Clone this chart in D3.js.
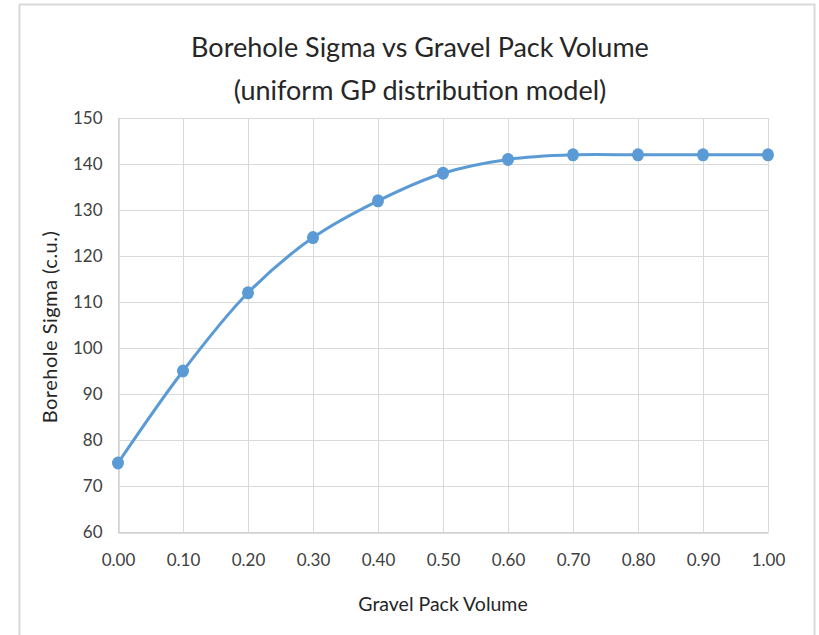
<!DOCTYPE html>
<html>
<head>
<meta charset="utf-8">
<script src="https://cdn.jsdelivr.net/npm/d3@7"></script>
<style>
	body { margin: 0; background: #fff; }
	svg { display: block; font-family: Lato, "Open Sans", sans-serif; }
</style>
</head>
<body>
<svg width="819" height="635"></svg>
<script>
// chart data
const gpVolume = [0, 0.1, 0.2, 0.3, 0.4, 0.5, 0.6, 0.7, 0.8, 0.9, 1.0];
const boreholeSigma = [75, 95, 112, 124, 132, 138, 141, 142, 142, 142, 142];
const xTicks = [0, 0.1, 0.2, 0.3, 0.4, 0.5, 0.6, 0.7, 0.8, 0.9, 1.0];
const yTicks = [60, 70, 80, 90, 100, 110, 120, 130, 140, 150];

const svg = d3.select("svg");
const plotLeft = 118, plotRight = 768, plotTop = 118, plotBottom = 532;

// outer chart frame
svg.append("rect")
	.attr("x", 19.5)
	.attr("y", 4.5)
	.attr("width", 795)
	.attr("height", 640)
	.attr("fill", "#fff")
	.attr("stroke", "#d9d9d9")
	.attr("stroke-width", 2);

const x = d3.scaleLinear().domain([0, 1]).range([plotLeft, plotRight]);
const y = d3.scaleLinear().domain([60, 150]).range([plotBottom, plotTop]);

// gridlines
const grid = svg.append("g").attr("stroke", "#d9d9d9").attr("stroke-width", 1);
grid.selectAll(".gy")
	.data(yTicks)
	.join("line")
	.attr("x1", plotLeft)
	.attr("x2", plotRight)
	.attr("y1", (d) => Math.round(y(d)) + 0.5)
	.attr("y2", (d) => Math.round(y(d)) + 0.5);
grid.selectAll(".gx")
	.data(xTicks)
	.join("line")
	.attr("x1", (d) => Math.round(x(d)) + 0.5)
	.attr("x2", (d) => Math.round(x(d)) + 0.5)
	.attr("y1", plotTop)
	.attr("y2", plotBottom);

// axes
const xAxis = svg.append("g")
	.attr("transform", "translate(0," + (plotBottom + 0.5) + ")")
	.call(d3.axisBottom(x).tickValues(xTicks).tickFormat(d3.format(".2f")).tickSize(0).tickPadding(21));
const yAxis = svg.append("g")
	.attr("transform", "translate(" + (plotLeft + 0.5) + ",0)")
	.call(d3.axisLeft(y).tickValues(yTicks).tickSize(0).tickPadding(16));
[xAxis, yAxis].forEach((a) => {
	a.select(".domain").attr("stroke", "#d0d0d0").attr("stroke-width", 1.5);
	a.selectAll("text")
		.attr("font-family", "Lato, 'Open Sans', sans-serif")
		.attr("font-size", "17px")
		.attr("fill", "#404040");
});

// series line
const pts = gpVolume.map((v, i) => [v, boreholeSigma[i]]);
svg.append("path")
	.datum(pts)
	.attr("fill", "none")
	.attr("stroke", "#5b9bd5")
	.attr("stroke-width", 3)
	.attr("d", d3.line().x((d) => x(d[0])).y((d) => y(d[1])).curve(d3.curveCatmullRom.alpha(0.5)));

svg.append("g")
	.selectAll("ellipse")
	.data(pts)
	.join("ellipse")
	.attr("cx", (d) => x(d[0]))
	.attr("cy", (d) => y(d[1]))
	.attr("rx", 6)
	.attr("ry", 6.5)
	.attr("fill", "#5b9bd5");

// titles
svg.append("text")
	.attr("x", 420)
	.attr("y", 57)
	.attr("text-anchor", "middle")
	.attr("font-size", "27px")
	.attr("fill", "#262626")
	.text("Borehole Sigma vs Gravel Pack Volume");
svg.append("text")
	.attr("x", 420)
	.attr("y", 100)
	.attr("text-anchor", "middle")
	.attr("font-size", "27px")
	.attr("fill", "#262626")
	.text("(uniform GP distribution model)");
svg.append("text")
	.attr("x", 443)
	.attr("y", 611)
	.attr("text-anchor", "middle")
	.attr("font-size", "19.5px")
	.attr("fill", "#262626")
	.text("Gravel Pack Volume");
svg.append("text")
	.attr("transform", "translate(57,327) rotate(-90)")
	.attr("text-anchor", "middle")
	.attr("font-size", "20px")
	.attr("letter-spacing", "0.5px")
	.attr("fill", "#262626")
	.text("Borehole Sigma (c.u.)");
</script>
</body>
</html>
